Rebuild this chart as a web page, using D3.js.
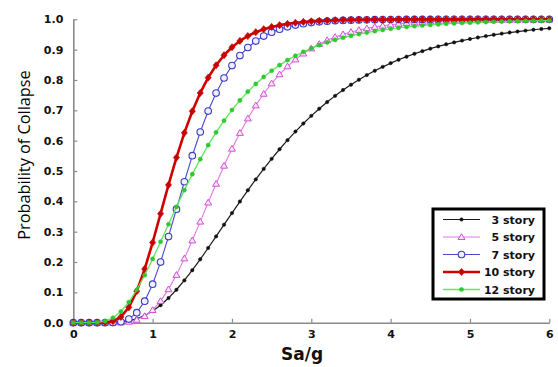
<!DOCTYPE html>
<html><head><meta charset="utf-8">
<script src="https://cdn.jsdelivr.net/npm/d3@7"></script>
<style>body{margin:0;background:#fff}svg{display:block}</style>
</head><body><svg id="c" width="558" height="367"></svg>
<script>
const saValues = [0,0.1,0.2,0.3,0.4,0.5,0.6,0.7,0.8,0.9,1.0,1.1,1.2,1.3,1.4,1.5,1.6,1.7,1.8,1.9,2.0,2.1,2.2,2.3,2.4,2.5,2.6,2.7,2.8,2.9,3.0,3.1,3.2,3.3,3.4,3.5,3.6,3.7,3.8,3.9,4.0,4.1,4.2,4.3,4.4,4.5,4.6,4.7,4.8,4.9,5.0,5.1,5.2,5.3,5.4,5.5,5.6,5.7,5.8,5.9,6.0];
const story3 = [0,0,0,0,0.0001,0.0007,0.0025,0.0062,0.0131,0.0236,0.0384,0.0576,0.0812,0.1086,0.1395,0.1731,0.2089,0.2462,0.2844,0.3230,0.3613,0.3993,0.4364,0.4723,0.5069,0.5401,0.5717,0.6017,0.6300,0.6567,0.6818,0.7053,0.7272,0.7477,0.7668,0.7844,0.8009,0.8161,0.8302,0.8433,0.8554,0.8665,0.8768,0.8863,0.8951,0.9032,0.9107,0.9176,0.9239,0.9298,0.9351,0.9401,0.9447,0.9489,0.9528,0.9563,0.9596,0.9627,0.9655,0.9681,0.9704];
const story5 = [0,0,0,0,0,0.0001,0.0008,0.0033,0.0095,0.0217,0.0419,0.0713,0.1101,0.1576,0.2119,0.2712,0.3332,0.3961,0.4580,0.5175,0.5735,0.6256,0.6733,0.7162,0.7546,0.7887,0.8186,0.8449,0.8676,0.8872,0.9041,0.9187,0.9311,0.9417,0.9506,0.9583,0.9648,0.9703,0.9749,0.9788,0.9821,0.9849,0.9873,0.9893,0.9909,0.9924,0.9935,0.9946,0.9954,0.9961,0.9967,0.9972,0.9976,0.9980,0.9983,0.9986,0.9988,0.9990,0.9991,0.9992,0.9994];
const story7 = [0,0,0,0,0,0.0005,0.0031,0.0120,0.0331,0.0709,0.1270,0.1997,0.2840,0.3743,0.4645,0.5504,0.6286,0.6976,0.7568,0.8065,0.8474,0.8806,0.9071,0.9281,0.9447,0.9575,0.9675,0.9752,0.9811,0.9856,0.9891,0.9917,0.9937,0.9952,0.9964,0.9972,0.9979,0.9984,0.9988,0.9991,0.9993,0.9994,0.9995,0.9996,0.9997,0.9997,0.9998,0.9998,0.9998,0.9999,0.9999,0.9999,0.9999,0.9999,0.9999,0.9999,1,1,1,1,1];
const story10 = [0,0,0,0,0.0006,0.0048,0.0191,0.0507,0.1038,0.1771,0.2643,0.3592,0.4542,0.5443,0.6257,0.6969,0.7573,0.8076,0.8486,0.8817,0.9079,0.9287,0.9449,0.9575,0.9673,0.9749,0.9807,0.9852,0.9887,0.9913,0.9933,0.9949,0.9960,0.9970,0.9977,0.9982,0.9986,0.9989,0.9992,0.9993,0.9995,0.9996,0.9997,0.9997,0.9998,0.9998,0.9999,0.9999,0.9999,0.9999,0.9999,1,1,1,1,1,1,1,1,1,1];
const story12 = [0,0,0,0.0009,0.0051,0.0163,0.0369,0.0678,0.1085,0.1568,0.2102,0.2668,0.3245,0.3817,0.4370,0.4896,0.5391,0.5850,0.6273,0.6659,0.7010,0.7327,0.7613,0.7870,0.8100,0.8305,0.8489,0.8653,0.8798,0.8928,0.9044,0.9147,0.9238,0.9319,0.9392,0.9456,0.9513,0.9564,0.9609,0.9650,0.9686,0.9718,0.9747,0.9772,0.9795,0.9815,0.9834,0.9850,0.9865,0.9878,0.9890,0.9900,0.9910,0.9918,0.9926,0.9933,0.9939,0.9945,0.9950,0.9954,0.9959];
const seriesNames = ["3 story","5 story","7 story","10 story","12 story"];
const xTicks = [0,1,2,3,4,5,6];
const yTicks = [0,0.1,0.2,0.3,0.4,0.5,0.6,0.7,0.8,0.9,1.0];

const styles = [
  {line:"#1a1a1a", w:1.2, marker:"dot", mfill:"#111", mstroke:"#111", size:1.7},
  {line:"#E07AE0", w:1.1, marker:"tri", mfill:"#FBE6FB", mstroke:"#D44FD4", size:3.3},
  {line:"#4A4AC8", w:1.1, marker:"circ", mfill:"#EEF0FF", mstroke:"#3A3AC4", size:3.3},
  {line:"#D00000", w:2.6, marker:"diam", mfill:"#C80000", mstroke:"#C80000", size:3.6},
  {line:"#5BE85B", w:1.3, marker:"dot", mfill:"#2FC82F", mstroke:"#2FC82F", size:2.1}
];
const allSeries = [story3, story5, story7, story10, story12];

const svg = d3.select("#c");
const x = d3.scaleLinear().domain([0,6]).range([73.3,549.3]);
const y = d3.scaleLinear().domain([0,1]).range([322.7,19.3]);
const axisColor = "#8a8a8a";

const gx = svg.append("g").attr("transform",`translate(0,${y(0)})`)
  .call(d3.axisBottom(x).tickValues(xTicks).tickSizeInner(-4).tickSizeOuter(0).tickFormat(d3.format("d")));
const gy = svg.append("g").attr("transform",`translate(${x(0)},0)`)
  .call(d3.axisLeft(y).tickValues(yTicks).tickSizeInner(-4).tickSizeOuter(0).tickFormat(d3.format(".1f")));
[gx,gy].forEach(g=>{
  g.select(".domain").attr("stroke",axisColor).attr("stroke-width",1.6);
  g.selectAll(".tick line").attr("stroke",axisColor).attr("stroke-width",1.2);
  g.selectAll(".tick text").attr("fill","#111").attr("font-family","DejaVu Sans, sans-serif")
    .attr("font-weight","bold").attr("font-size","11px");
});
gx.selectAll(".tick text").attr("dy","0").attr("y",15);
gy.selectAll(".tick text").attr("x",-10);

svg.append("text").attr("x",302).attr("y",360).attr("text-anchor","middle")
  .attr("font-family","DejaVu Sans, sans-serif").attr("font-weight","bold").attr("font-size","17px")
  .attr("fill","#111").text("Sa/g");
svg.append("text").attr("transform","translate(30,155) rotate(-90)").attr("text-anchor","middle")
  .attr("font-family","Open Sans, sans-serif").attr("font-size","16.3px").attr("fill","#000")
  .text("Probability of Collapse");

function drawMarker(g, st, cx, cy){
  const s = st.size;
  if(st.marker==="dot" || st.marker==="circ"){
    g.append("circle").attr("cx",cx).attr("cy",cy).attr("r",s)
      .attr("fill",st.mfill).attr("stroke",st.mstroke).attr("stroke-width",st.marker==="circ"?1.1:0.5);
  } else if(st.marker==="tri"){
    g.append("path").attr("d",`M${cx},${cy-s}L${cx+s*1.05},${cy+s*0.75}L${cx-s*1.05},${cy+s*0.75}Z`)
      .attr("fill",st.mfill).attr("stroke",st.mstroke).attr("stroke-width",1);
  } else if(st.marker==="diam"){
    g.append("path").attr("d",`M${cx},${cy-s}L${cx+s*0.85},${cy}L${cx},${cy+s}L${cx-s*0.85},${cy}Z`)
      .attr("fill",st.mfill).attr("stroke",st.mstroke).attr("stroke-width",0.6);
  }
}

const line = d3.line().x(d=>x(d[0])).y(d=>y(d[1]));
allSeries.forEach((vals,i)=>{
  const st = styles[i];
  const pts = saValues.map((s,j)=>[s,vals[j]]);
  const g = svg.append("g");
  g.append("path").datum(pts).attr("d",line).attr("fill","none")
    .attr("stroke",st.line).attr("stroke-width",st.w).attr("stroke-linejoin","round");
  pts.forEach(p=>drawMarker(g, st, x(p[0]), y(p[1])));
});

const lg = svg.append("g");
lg.append("rect").attr("x",433).attr("y",209).attr("width",111).attr("height",90)
  .attr("fill","#fff").attr("stroke","#000").attr("stroke-width",3);
const legY = [219.5,237,254.5,272,289.5];
seriesNames.forEach((n,i)=>{
  const st = styles[i];
  lg.append("line").attr("x1",443).attr("x2",480).attr("y1",legY[i]).attr("y2",legY[i])
    .attr("stroke",st.line).attr("stroke-width",st.w);
  drawMarker(lg, st, 461.5, legY[i]);
  lg.append("text").attr("x",535).attr("y",legY[i]+4).attr("text-anchor","end")
    .attr("font-family","DejaVu Sans, sans-serif").attr("font-weight","bold").attr("font-size","11px")
    .attr("fill","#111").text(n);
});
</script></body></html>
